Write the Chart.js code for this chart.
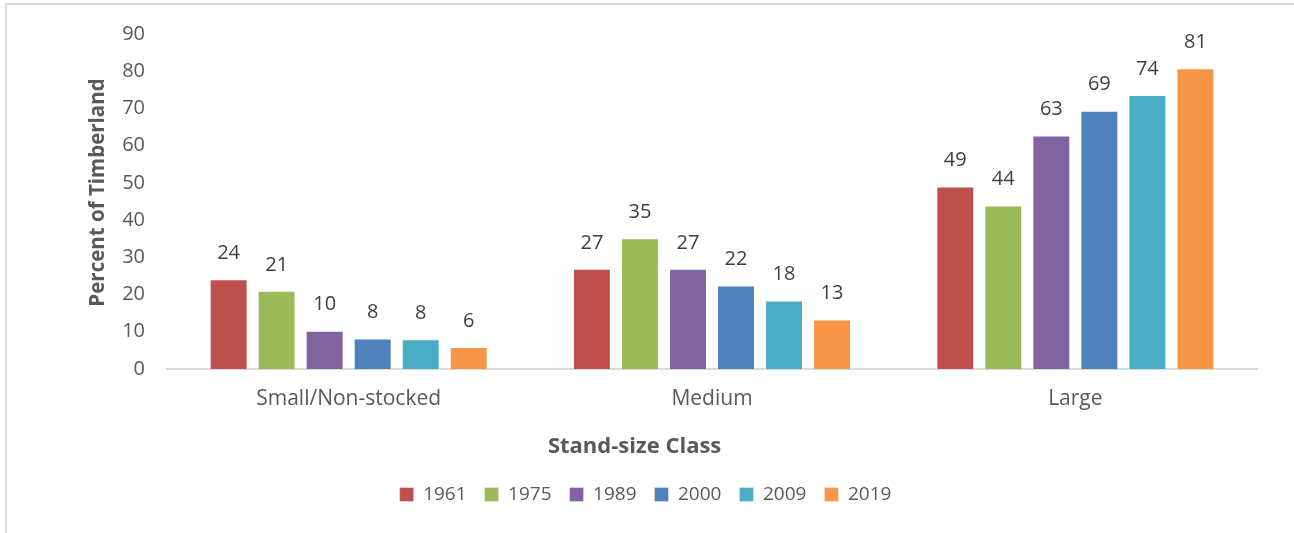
<!DOCTYPE html>
<html>
<head>
<meta charset="utf-8">
<script src="https://cdn.jsdelivr.net/npm/chart.js@4.4.1/dist/chart.umd.min.js"></script>
<style>
  html, body { margin: 0; padding: 0; background: #fff; }
  #wrap { position: relative; width: 1294px; height: 533px; overflow: hidden; }
  #frame { position: absolute; left: 5px; top: 3px; width: 1400px; height: 700px;
           border: 2px solid #d9d9d9; box-sizing: border-box; pointer-events: none; }
</style>
</head>
<body>
<div id="wrap">
  <canvas id="chart" width="1294" height="533"></canvas>
  <div id="frame"></div>
</div>
<script>
// stand-size classes on the x axis
var categories = ["Small/Non-stocked", "Medium", "Large"];
var years = ["1961", "1975", "1989", "2000", "2009", "2019"];

// percent of timberland, one array per inventory year
var v1961 = [24.1, 26.9, 49.0];
var v1975 = [21.0, 35.1, 43.9];
var v1989 = [10.3, 26.9, 62.7];
var v2000 = [8.2, 22.4, 69.4];
var v2009 = [8.0, 18.4, 73.6];
var v2019 = [5.9, 13.3, 80.8];

var yTicks = [0, 10, 20, 30, 40, 50, 60, 70, 80, 90];

var xTitle = "Stand-size Class";
var yTitle = "Percent of Timberland";

var colors = ["#C0504D", "#9BBB59", "#8064A2", "#4F81BD", "#4BACC6", "#F79646"];
var seriesValues = [v1961, v1975, v1989, v2000, v2009, v2019];

var FONT = "'Open Sans', 'Noto Sans', sans-serif";

var datasets = [];
for (var i = 0; i < years.length; i++) {
    datasets.push({
        label: years[i],
        data: seriesValues[i],
        backgroundColor: colors[i],
        borderColor: "rgba(255,255,255,0.35)",
        borderWidth: 1,
        borderSkipped: "bottom",
        categoryPercentage: 0.793,
        barPercentage: 0.79
    });
}

// labels sitting above each bar, rounded like the source
var barLabels = {
    id: "barLabels",
    afterDatasetsDraw: function(chart) {
        var ctx = chart.ctx;
        ctx.save();
        ctx.font = "20px " + FONT;
        ctx.fillStyle = "#404040";
        ctx.textAlign = "center";
        ctx.textBaseline = "middle";
        chart.data.datasets.forEach(function(ds, di) {
            var meta = chart.getDatasetMeta(di);
            meta.data.forEach(function(bar, j) {
                ctx.fillText(String(Math.round(ds.data[j])), bar.x, bar.y - 26);
            });
        });
        ctx.restore();
    }
};

// axis titles sit a bit off-centre in the original, so draw them here
var axisTitles = {
    id: "axisTitles",
    afterLayout: function(chart) {
        // legend in the source is centred left of the plot centre
        chart.legend.left -= 26;
        chart.legend.right -= 26;
    },
    afterDraw: function(chart) {
        var ctx = chart.ctx;
        var area = chart.chartArea;
        ctx.save();
        ctx.fillStyle = "#595959";
        ctx.textAlign = "center";
        ctx.textBaseline = "middle";
        ctx.font = "bold 22px " + FONT;
        ctx.fillText(xTitle, area.left + (area.right - area.left) * 0.429, area.bottom + 78);
        ctx.translate(area.left - 69, (area.top + area.bottom) / 2 - 9);
        ctx.rotate(-Math.PI / 2);
        ctx.font = "bold 20.5px " + FONT;
        ctx.fillText(yTitle, 0, 0);
        ctx.restore();
    }
};

var ctx = document.getElementById("chart").getContext("2d");
var myChart = new Chart(ctx, {
    type: "bar",
    data: {
        labels: categories,
        datasets: datasets
    },
    options: {
        responsive: false,
        animation: false,
        layout: {
            padding: { left: 86, right: 37, top: 31, bottom: 19 }
        },
        plugins: {
            tooltip: { enabled: false },
            legend: {
                position: "bottom",
                labels: {
                    font: { family: FONT, size: 19 },
                    color: "#595959",
                    boxWidth: 14,
                    boxHeight: 14,
                    padding: 18
                }
            }
        },
        scales: {
            x: {
                grid: { display: false, drawTicks: false },
                border: { display: true, color: "#d9d9d9", width: 2 },
                ticks: {
                    font: { family: FONT, size: 21 },
                    color: "#595959",
                    padding: 17,
                    maxRotation: 0
                },
                afterFit: function(scale) { scale.height = 98; }
            },
            y: {
                min: 0,
                max: 90,
                grid: { display: false, drawTicks: false },
                border: { display: false },
                afterBuildTicks: function(scale) {
                    scale.ticks = yTicks.map(function(v) { return { value: v }; });
                },
                ticks: {
                    font: { family: FONT, size: 20 },
                    color: "#595959",
                    padding: 22
                },
                afterFit: function(scale) { scale.width = 81; }
            }
        }
    },
    plugins: [barLabels, axisTitles]
});
</script>
</body>
</html>
